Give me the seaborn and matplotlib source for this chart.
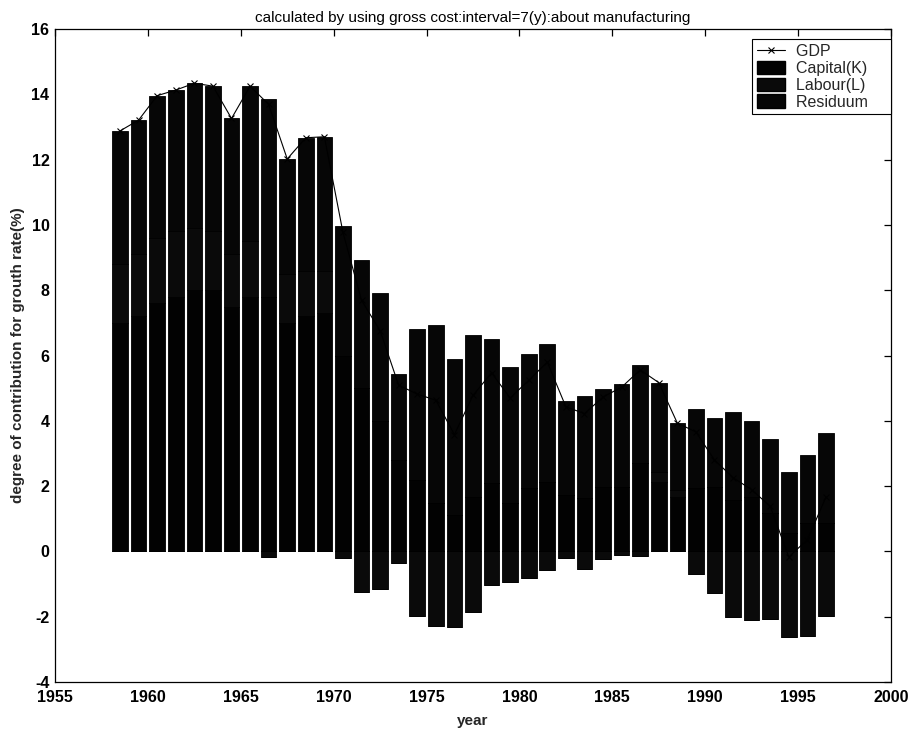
import numpy as np
import pandas as pd
import matplotlib
matplotlib.use("Agg")
import matplotlib.pyplot as plt
import seaborn as sns
from matplotlib.patches import Patch
from matplotlib.lines import Line2D

# ---------------- data ----------------
years = [1958, 1959, 1960, 1961, 1962, 1963, 1964, 1965, 1966, 1967,
         1968, 1969, 1970, 1971, 1972, 1973, 1974, 1975, 1976, 1977,
         1978, 1979, 1980, 1981, 1982, 1983, 1984, 1985, 1986, 1987,
         1988, 1989, 1990, 1991, 1992, 1993, 1994, 1995, 1996]

capital = [7.0, 7.2, 7.6, 7.8, 8.0, 8.0, 7.5, 7.8, 7.8, 7.0,
           7.2, 7.3, 6.0, 5.0, 4.0, 2.8, 2.19, 1.48, 1.11, 1.68,
           2.10, 1.48, 1.94, 2.13, 1.73, 1.64, 1.98, 1.98, 2.70, 2.13,
           1.68, 1.94, 1.98, 1.57, 1.68, 1.17, 0.55, 0.86, 0.86]

labour = [1.8, 1.9, 2.0, 2.0, 1.9, 1.8, 1.6, 1.7, -0.18, 1.5,
          1.4, 1.3, -0.21, -1.23, -1.15, -0.34, -1.98, -2.29, -2.32, -1.85,
          -1.03, -0.95, -0.80, -0.56, -0.19, -0.54, -0.23, -0.11, -0.14, 0.30,
          0.20, -0.69, -1.28, -2.00, -2.10, -2.06, -2.61, -2.60, -1.98]

residuum = [4.08, 4.11, 4.36, 4.33, 4.44, 4.45, 4.16, 4.75, 6.07, 3.52,
            4.07, 4.10, 3.98, 3.92, 3.91, 2.63, 4.61, 5.44, 4.79, 4.95,
            4.40, 4.17, 4.10, 4.23, 2.89, 3.12, 2.98, 3.16, 3.00, 2.74,
            2.05, 2.41, 2.10, 2.69, 2.31, 2.27, 1.89, 2.10, 2.78]

gdp = [12.88, 13.21, 13.96, 14.13, 14.34, 14.25, 13.26, 14.25, 13.69, 12.02,
       12.67, 12.70, 9.77, 7.69, 6.76, 5.09, 4.82, 4.63, 3.58, 4.78,
       5.47, 4.70, 5.24, 5.80, 4.43, 4.22, 4.73, 5.03, 5.56, 5.17,
       3.93, 3.66, 2.80, 2.26, 1.89, 1.38, -0.17, 0.36, 1.66]

series_names = ["Capital(K)", "Labour(L)", "Residuum"]
title = "calculated by using gross cost:interval=7(y):about manufacturing"
xlabel = "year"
ylabel = "degree of contribution for grouth rate(%)"
xticks = [1955, 1960, 1965, 1970, 1975, 1980, 1985, 1990, 1995, 2000]
yticks = [-4, -2, 0, 2, 4, 6, 8, 10, 12, 14, 16]

# ---------------- style ----------------
sns.set_style("white")
plt.rcParams['font.family'] = ['Liberation Sans', 'DejaVu Sans']
plt.rcParams['axes.unicode_minus'] = False

fig = plt.figure(figsize=(9.14, 7.31), dpi=100)
ax = fig.add_axes([0.0602, 0.0670, 0.9146, 0.8933])

xpos = np.array(years, dtype=float) + 0.5
colors = ["#020202", "#0a0a0a", "#060606"]

pos_base = np.zeros(len(years))
neg_base = np.zeros(len(years))
for vals, col in zip([capital, labour, residuum], colors):
    v = np.array(vals, dtype=float)
    pos = np.where(v > 0, v, 0.0)
    neg = np.where(v < 0, v, 0.0)
    ax.bar(xpos, pos, bottom=pos_base, width=0.84, color=col,
           edgecolor="black", linewidth=0.6, zorder=2)
    ax.bar(xpos, neg, bottom=neg_base, width=0.84, color=col,
           edgecolor="black", linewidth=0.6, zorder=2)
    pos_base = pos_base + pos
    neg_base = neg_base + neg

df = pd.DataFrame({"x": xpos, "gdp": gdp})
sns.lineplot(data=df, x="x", y="gdp", ax=ax, color="black", linewidth=0.8,
             marker="x", markersize=4, markeredgewidth=0.8,
             markeredgecolor="black", zorder=3, legend=False)

ax.set_xlim(1955, 2000)
ax.set_ylim(-4, 16)
ax.set_xticks(xticks)
ax.set_yticks(yticks)
ax.tick_params(direction="in", length=5, width=0.9, top=True, right=True,
               labelsize=11.5, colors="black")
ax.tick_params(axis="x", pad=6)
ax.tick_params(axis="y", pad=4)
for lab in ax.get_xticklabels() + ax.get_yticklabels():
    lab.set_fontweight("bold")
for s in ax.spines.values():
    s.set_visible(True)
    s.set_color("black")
    s.set_linewidth(0.9)

ax.set_title(title, fontsize=11, pad=5, color="black")
ax.set_xlabel(xlabel, fontsize=11, fontweight="bold", labelpad=6)
ax.set_ylabel(ylabel, fontsize=11, fontweight="bold", labelpad=5)

handles = [Line2D([0], [0], color="black", linewidth=0.8, marker="x",
                  markersize=4, markeredgewidth=0.8)]
handles += [Patch(facecolor=c, edgecolor="black") for c in colors]
labels = [s + "    " for s in ["GDP"] + series_names]
leg = ax.legend(handles, labels, loc="upper right",
                bbox_to_anchor=(0.9995, 0.984), frameon=True, fancybox=False,
                edgecolor="black", framealpha=1, fontsize=11.5,
                handlelength=1.75, handleheight=0.9, labelspacing=0.1,
                borderpad=0.3, handletextpad=0.7, borderaxespad=0)
leg.get_frame().set_linewidth(0.8)

fig.savefig("out.png", dpi=100, facecolor="white")
